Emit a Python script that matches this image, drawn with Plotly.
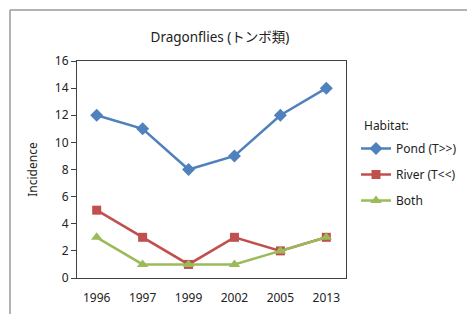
import plotly.graph_objects as go

years = ["1996", "1997", "1999", "2002", "2005", "2013"]
pond = [12, 11, 8, 9, 12, 14]
river = [5, 3, 1, 3, 2, 3]
both = [3, 1, 1, 1, 2, 3]
series_names = ["Pond (T>>)", "River (T<<)", "Both"]
colors = ["#4F81BD", "#C0504D", "#9BBB59"]
symbols = ["diamond", "square", "triangle-up"]
marker_sizes = [10, 9, 10]

FONT = "Noto Sans, Noto Sans CJK JP, sans-serif"

fig = go.Figure()
for i, (name, vals) in enumerate(zip(series_names, [pond, river, both])):
    fig.add_trace(go.Scatter(
        x=years, y=vals, name=name, mode="lines+markers",
        line=dict(color=colors[i], width=2.5),
        marker=dict(symbol=symbols[i], size=marker_sizes[i], color=colors[i]),
        legendgroup=f"g{i}",
    ))

L, R, T, B = 77, 346, 61, 278
W, H = 467, 314

def px_x(px):
    return (px - L) / (R - L)

def px_y(py):
    return (B - py) / (B - T)

fig.update_layout(
    width=W, height=H,
    margin=dict(l=L, r=W - R, t=T, b=H - B, autoexpand=False),
    paper_bgcolor="white", plot_bgcolor="white",
    font=dict(family=FONT, size=12, color="#222222"),
    title=dict(text="Dragonflies (トンボ類)", x=220 / W, xanchor="center",
               y=1 - 37 / H, yanchor="middle",
               font=dict(family=FONT, size=13.5, color="#222222")),
    showlegend=True,
    legend=dict(
        x=px_x(356), y=px_y(134), xanchor="left", yanchor="top",
        font=dict(size=12), tracegroupgap=7, bgcolor="rgba(0,0,0,0)",
    ),
    annotations=[
        dict(text="Habitat:", xref="paper", yref="paper",
             x=px_x(362), y=px_y(125), xanchor="left", yanchor="middle",
             showarrow=False, font=dict(size=12)),
    ],
    xaxis=dict(
        type="category", showgrid=False, zeroline=False, automargin=False,
        showline=True, linecolor="#404040", linewidth=1.2, mirror=True,
        ticks="", tickfont=dict(size=12), ticklabelstandoff=8,
    ),
    yaxis=dict(
        range=[0, 16], dtick=2, showgrid=False, zeroline=False, automargin=False,
        showline=True, linecolor="#404040", linewidth=1.2, mirror=True,
        ticks="outside", ticklen=5, tickcolor="#404040",
        tickfont=dict(size=12),
        title=dict(text="Incidence", font=dict(size=12), standoff=14),
    ),
    shapes=[
        dict(type="line", xref="paper", yref="paper",
             x0=px_x(10), x1=px_x(470), y0=px_y(10), y1=px_y(10),
             line=dict(color="#9a9a9a", width=1.5), layer="below"),
        dict(type="line", xref="paper", yref="paper",
             x0=px_x(10), x1=px_x(10), y0=px_y(10), y1=px_y(320),
             line=dict(color="#9a9a9a", width=1.5), layer="below"),
    ],
)

fig.write_html("out.html", config={"displayModeBar": False},
               post_script="document.body.style.margin='0';")
